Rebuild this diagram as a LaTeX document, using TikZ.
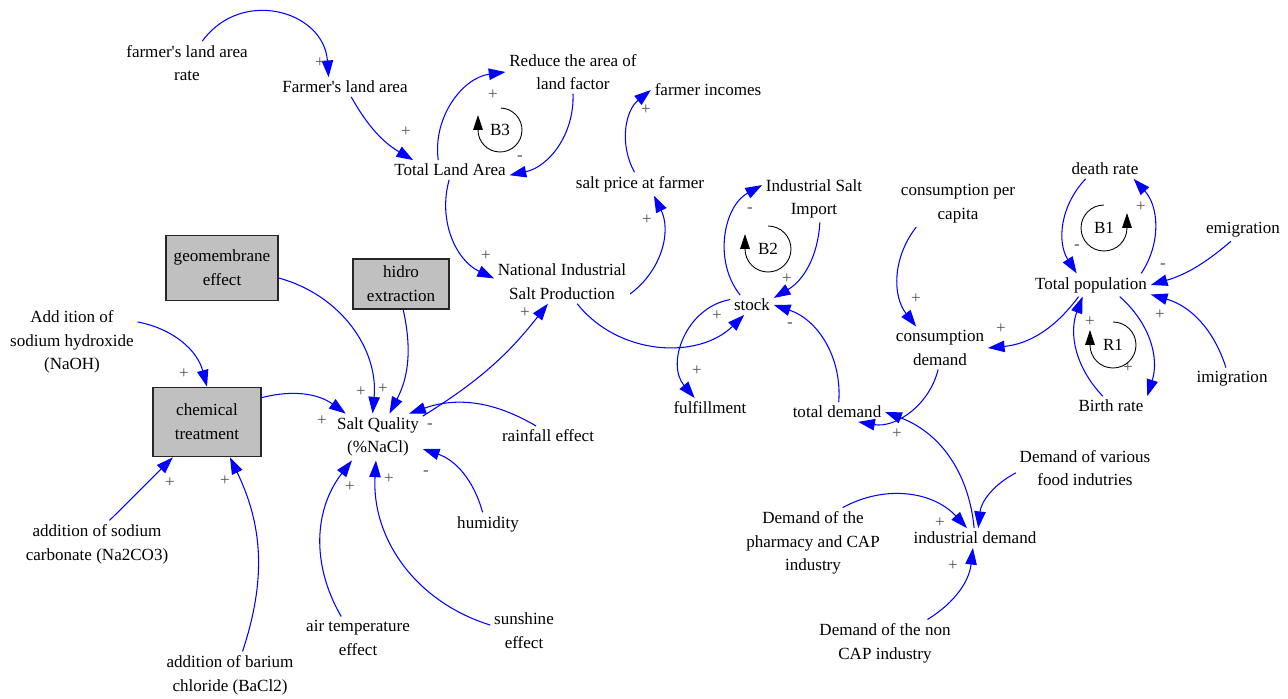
\documentclass[tikz,border=0pt]{standalone}
\usepackage{fontspec}
\setmainfont{Liberation Serif}
\usepackage{tikz}
\usetikzlibrary{arrows.meta}
\definecolor{LinkBlue}{HTML}{0000FF}
\definecolor{BoxGray}{HTML}{C0C0C0}
\definecolor{SignGray}{HTML}{505050}

\begin{document}
\begin{tikzpicture}[x=0.02cm, y=0.02cm,
    font=\fontsize{9.7pt}{13.5pt}\selectfont,
    var/.style={align=center, inner sep=2pt},
    box/.style={draw=black!85, line width=1pt, fill=BoxGray, align=center, inner sep=0pt},
    link/.style={draw=LinkBlue, line width=0.6pt, -{Triangle[length=9.5pt,width=6.5pt]}},
    pol/.style={text=SignGray, inner sep=0pt},
    looplbl/.style={inner sep=0pt},
    loopring/.style={draw=black, line width=0.5pt, -{Triangle[length=8.5pt,width=5.5pt]}}]
      \useasboundingbox (0,0) rectangle (1288,698);

      % Land and price
      \node[var] (farmrate) at (187,635) {farmer\textquotesingle s land area\\rate};
      \node[var] (farmland) at (345,611) {Farmer\textquotesingle s land area};
      \node[var] (reduce) at (573,626) {Reduce the area of\\land factor};
      \node[var] (farminc) at (708,608) {farmer incomes};
      \node[var] (totland) at (450,528) {Total Land Area};
      \node[var] (saltprice) at (640,514) {salt price at farmer};
      \node[var] (natprod) at (562,416) {National Industrial\\Salt Production};

      % Salt quality
      \node[box, minimum width=2.24cm, minimum height=1.3cm] (geo) at (222,430) {geomembrane\\effect};
      \node[box, minimum width=1.92cm, minimum height=1.0cm] (hidro) at (401,414) {hidro\\extraction};
      \node[box, minimum width=2.16cm, minimum height=1.38cm] (chem) at (207,276) {chemical\\treatment};
      \node[var] (naoh) at (72,356) {Add ition of\\sodium hydroxide\\(NaOH)};
      \node[var] (saltq) at (378,261) {Salt Quality\\(\%NaCl)};
      \node[var] (rain) at (548,262) {rainfall effect};
      \node[var] (humid) at (488,174) {humidity};
      \node[var] (na2co3) at (97,154) {addition of sodium\\carbonate (Na2CO3)};
      \node[var] (airtemp) at (358,60) {air temperature\\effect};
      \node[var] (sunshine) at (524,67) {sunshine\\effect};
      \node[var] (bacl) at (230,23) {addition of barium\\chloride (BaCl2)};

      % Stock and demand
      \node[var] (impor) at (814,499) {Industrial Salt\\Import};
      \node[var] (stock) at (752,393) {stock};
      \node[var] (fulfil) at (710,290) {fulfillment};
      \node[var] (totdem) at (837,286) {total demand};
      \node[var] (cpc) at (958,494) {consumption per\\capita};
      \node[var] (consdem) at (940,350) {consumption\\demand};
      \node[var] (various) at (1085,230) {Demand of various\\food indutries};
      \node[var] (pharm) at (813,155) {Demand of the\\pharmacy and CAP\\industry};
      \node[var] (inddem) at (975,160) {industrial demand};
      \node[var] (nonCAP) at (885,55) {Demand of the non\\CAP industry};

      % Population
      \node[var] (death) at (1105,529) {death rate};
      \node[var] (emig) at (1243,468) {emigration};
      \node[var] (totpop) at (1091,413) {Total population};
      \node[var] (birth) at (1111,292) {Birth rate};
      \node[var] (imig) at (1232,319) {imigration};

      % Links
      \draw[link] (farmrate.55) to[bend left=70, looseness=1.3] (farmland.149);
      \draw[link] (farmland.-58) to[bend right=15] (totland.165);
      \draw[link] (totland.140) to[bend left=45] (reduce.west);
      \draw[link] (reduce.south) to[bend left=40] (totland.-5);
      \draw[link] (saltprice.115) to[bend left=40] (farminc.west);
      \draw[link] (natprod.-10) to[bend right=40] (saltprice.-40);
      \draw[link] (totland.265) to[bend right=40] (natprod.177);
      \draw[link] (saltq.25) to[bend right=10] (natprod.237);
      \draw[link] (rain.140) to[bend right=25] (saltq.37);
      \draw[link] (humid.115) to[bend right=28] (saltq.-15);
      \draw[link] (sunshine.170) to[bend left=38] (saltq.265);
      \draw[link] (airtemp.128) to[bend left=34] (saltq.222);
      \draw[link] (geo.-10) to[bend left=40] (saltq.103);
      \draw[link] (hidro.-85) to[bend left=20] (saltq.64);
      \draw[link] (chem.24) to[bend left=25] (saltq.144);
      \draw[link] (naoh.17) to[bend left=32] (chem.north);
      \draw[link] (na2co3.62) -- (chem.226);
      \draw[link] (bacl.62) to[bend right=22] (chem.-57);
      \draw[link] (natprod.-55) to[bend right=48] (stock.232);
      \draw[link] (stock.140) to[bend left=50] (impor.165);
      \draw[link] (impor.-76) to[bend left=28] (stock.18);
      \draw[link] (stock.166) to[bend right=60, looseness=1.1] (fulfil.147);
      \draw[link] (totdem.80) to[bend right=38] (stock.east);
      \draw[link] (cpc.209) to[bend right=38] (consdem.138);
      \draw[link] (consdem.-95) to[bend left=43] (totdem.-25);
      \draw[link] (inddem.95) to[bend right=32] (totdem.east);
      \draw[link] (pharm.50) to[bend left=38] (inddem.129);
      \draw[link] (various.184) to[bend right=28] (inddem.72);
      \draw[link] (nonCAP.29) to[bend right=26] (inddem.258);
      \draw[link] (totpop.223) to[bend left=24] (consdem.east);
      \draw[link] (death.207) to[bend right=38] (totpop.141);
      \draw[link] (totpop.13) to[bend right=38] (death.-19);
      \draw[link] (birth.130) to[bend left=32] (totpop.234);
      \draw[link] (totpop.-22) to[bend left=33] (birth.north east);
      \draw[link] (emig.223) to[bend left=12] (totpop.east);
      \draw[link] (imig.118) to[bend right=28] (totpop.-9);

      % Polarities
      \foreach \px/\py/\s [count=\i] in {320/635/+, 406/566/+, 493/603/+, 520/540/-,
          646/588/+, 647/478/+, 486/442/+, 525/385/+, 717/382/+, 750/488/-,
          787/419/+, 697/327/+, 790/373/-, 916/399/+, 1001/369/+, 897/264/+,
          1077/451/-, 1141/491/+, 1163/432/-, 1160/383/+, 1090/376/+, 1128/330/+,
          940/175/+, 953/132/+, 184/324/+, 170/215/+, 225/217/+, 322/277/+,
          361/306/+, 383/309/+, 430/272/-, 426/225/-, 350/211/+, 389/219/+}
        \node[pol] (pol\i) at (\px,\py) {\s};

      % Loops
      \node[looplbl] (lb3) at (500,568) {B3};
      \node[looplbl] (lb2) at (768,449) {B2};
      \node[looplbl] (lb1) at (1104,470) {B1};
      \node[looplbl] (lr1) at (1113,353) {R1};
      \draw[loopring] ([shift={(88:0.44cm)}]lb3.center) arc[start angle=88, end angle=-180, radius=0.44cm] -- ++(0,0.3cm);
      \draw[loopring] ([shift={(90:0.46cm)}]lb2.center) arc[start angle=90, end angle=-180, radius=0.46cm] -- ++(0,0.3cm);
      \draw[loopring] ([shift={(90:0.46cm)}]lr1.center) arc[start angle=90, end angle=-180, radius=0.46cm] -- ++(0,0.3cm);
      \draw[loopring] ([shift={(90:0.46cm)}]lb1.center) arc[start angle=90, end angle=360, radius=0.46cm] -- ++(0,0.3cm);
    \end{tikzpicture}
\end{document}
